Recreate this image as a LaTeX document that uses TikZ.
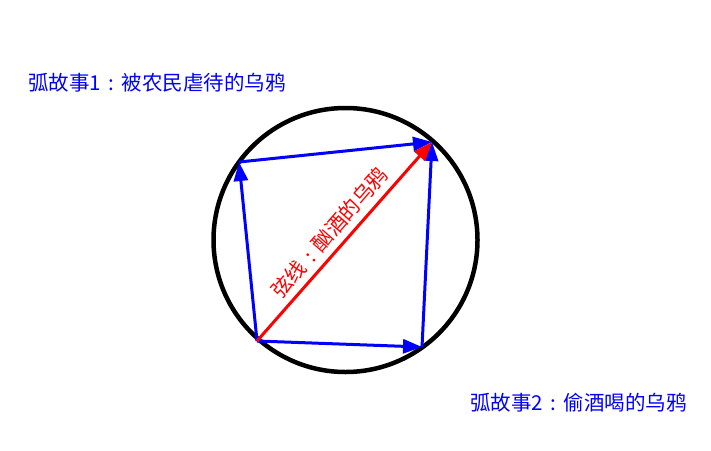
\documentclass[tikz,border=0pt]{standalone}
\usepackage{fontspec}
\setmainfont{Noto Sans CJK SC}
\usetikzlibrary{arrows.meta,calc}
\newcommand{\fwcolon}{\makebox[1em][c]{:}}
\tikzset{
  circ/.style={draw=black, line width=4.5pt},
  bluearrow/.style={draw={rgb,255:red,0;green,0;blue,255}, line width=3pt, -{Triangle[length=19pt,width=14pt]}},
  redarrow/.style={draw={rgb,255:red,255;green,0;blue,0}, line width=3pt, -{Triangle[length=19pt,width=14pt]}},
  lbl/.style={inner sep=0pt, font=\fontsize{20.5}{24}\selectfont},
}
\definecolor{pureblue}{RGB}{0,0,255}
\definecolor{purered}{RGB}{255,0,0}
\begin{document}
\begin{tikzpicture}[x=1pt,y=-1pt]
\useasboundingbox (0,0) rectangle (711,450);
\fill[white] (0,0) rectangle (711,450);
\coordinate (O) at (345.5,240);
\coordinate (A) at (257,341);
\coordinate (B) at (239,162);
\coordinate (C) at (432,142);
\coordinate (D) at (422,347);
\draw[circ] (O) circle[radius=132];
\draw[bluearrow] (A) -- (D);
\draw[bluearrow] (D) -- (C);
\draw[bluearrow] (A) -- (B);
\draw[bluearrow] (B) -- (C);
\draw[redarrow] (A) -- (C);
\node[lbl, text=purered, anchor=base, rotate=48.95] (chord) at ($(A)!0.487!(C)!9.5pt!90:(C)$) {弦线\fwcolon 酗酒的乌鸦};
\node[lbl, text=pureblue, anchor=west] (arc1) at (28,83) {弧故事1\fwcolon 被农民虐待的乌鸦};
\node[lbl, text=pureblue, anchor=west] (arc2) at (470,403) {弧故事2\fwcolon 偷酒喝的乌鸦};
\end{tikzpicture}
\end{document}
